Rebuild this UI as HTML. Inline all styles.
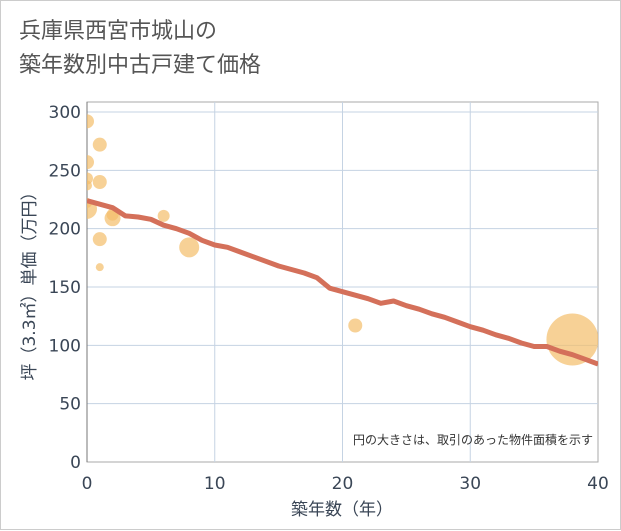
<!DOCTYPE html>
<html><head><meta charset="utf-8"><style>
body{margin:0;background:#fff;}
#wrap{width:621px;height:530px;position:relative;background:#fff;border:1px solid #ccc;box-sizing:border-box;}
#title{position:absolute;left:18px;top:14px;font:22px "DejaVu Sans","Noto Sans CJK JP",sans-serif;color:#555;line-height:34px;}
svg{position:absolute;left:0;top:0;}
</style></head><body>
<div id="wrap">
<div id="title">兵庫県西宮市城山の<br>築年数別中古戸建て価格</div>
<svg id="chart" width="621" height="530"><defs><clipPath id="clip"><rect x="86" y="101" width="511" height="360"/></clipPath></defs></svg>
</div>
<script>
const xTicks=[0,10,20,30,40];
const yTicks=[0,50,100,150,200,250,300];
const bubbleAge=[0,1,0,0,1,0,0,0,2,2,6,1,8,1,21,38];
const bubblePrice=[292,272,257,243,240,237,217,222,212,209,211,191,184,167,117,105];
const bubbleSize=[7,7,7,6,7,5,10,5,6,8,6,7,10,4,7,26];
const lineAge=[0,1,2,3,4,5,6,7,8,9,10,11,12,13,14,15,16,17,18,19,20,21,22,23,24,25,26,27,28,29,30,31,32,33,34,35,36,37,38,39,40];
const linePrice=[224,221,218,211,210,208,203,200,196,190,186,184,180,176,172,168,165,162,158,149,146,143,140,136,138,134,131,127,124,120,116,113,109,106,102,99,99,95,92,88,84];
const L=86,R=597,T=101,B=461;
const X=v=>L+(v-0)/40*(R-L);
const Y=v=>B-v/300*(B-111);
const NS="http://www.w3.org/2000/svg";
const svg=document.getElementById('chart');
const FONT='DejaVu Sans, Noto Sans CJK JP, sans-serif';
function mk(t,a,p){const e=document.createElementNS(NS,t);for(const k in a)e.setAttribute(k,a[k]);(p||svg).appendChild(e);return e;}
let r=mk('rect',{x:L,y:T,width:R-L,height:B-T,fill:'#fff',stroke:'#aaa','stroke-width':1});


xTicks.forEach(v=>{if(v>0&&v<40){const g=mk('line',{x1:X(v),x2:X(v),y1:T,y2:B,stroke:'#c5d3e3'});

}
const t=mk('text',{x:X(v),y:488,'text-anchor':'middle','font-size':17,fill:'#3a4656','font-family':FONT});t.textContent=v;

});
yTicks.forEach(v=>{if(v>0){const g=mk('line',{x1:L,x2:R,y1:Y(v),y2:Y(v),stroke:'#c5d3e3'});

}
const t=mk('text',{x:80,y:Y(v)+6,'text-anchor':'end','font-size':17,fill:'#3a4656','font-family':FONT});t.textContent=v;

});
const ax=mk('line',{x1:L,x2:L,y1:T,y2:B,stroke:'#777'});


const g=mk('g',{'clip-path':'url(#clip)'});


bubbleAge.forEach((a,i)=>{const c=mk('circle',{cx:X(a),cy:Y(bubblePrice[i]),r:bubbleSize[i],fill:'#f3bd6a','fill-opacity':0.7},g);

});
const pl=mk('polyline',{points:lineAge.map((a,i)=>X(a)+','+Y(linePrice[i])).join(' '),fill:'none',stroke:'#d4705a','stroke-width':5,'stroke-linejoin':'round'},g);


const n=mk('text',{x:592,y:443,'text-anchor':'end','font-size':12,fill:'#333','font-family':FONT});n.textContent='円の大きさは、取引のあった物件面積を示す';


const xt=mk('text',{x:341,y:514,'text-anchor':'middle','font-size':17,fill:'#3a4656','font-family':FONT});xt.textContent='築年数（年）';


const yt=mk('text',{x:0,y:0,'text-anchor':'middle','font-size':17,fill:'#3a4656',transform:'translate(34,281) rotate(-90)','font-family':FONT});yt.textContent='坪（3.3㎡）単価（万円）';


</script>
</body></html>
